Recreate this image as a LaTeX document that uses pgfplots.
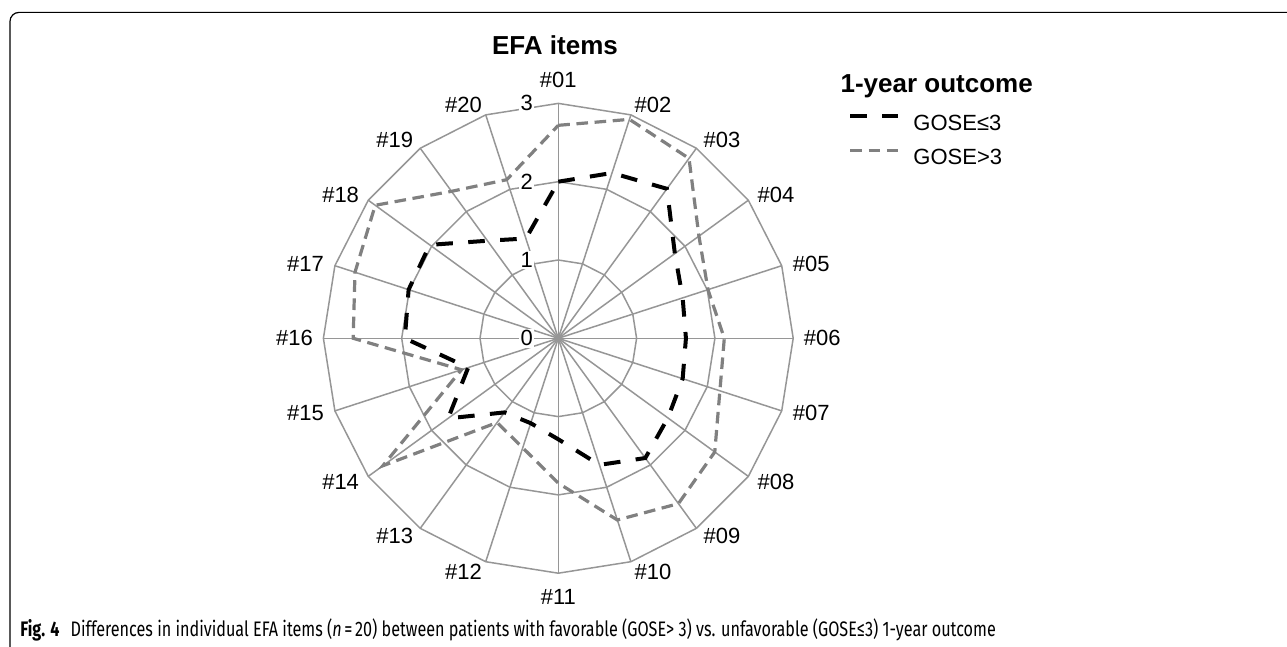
\documentclass[border=0pt]{standalone}
\usepackage{fontspec}
\setmainfont{Liberation Sans}
\newfontfamily\captionfont{Fira Sans}
\usepackage{graphicx}
\usepackage{pgfplots}
\pgfplotsset{compat=1.18}
\definecolor{gridc}{RGB}{150,150,150}
\definecolor{sergray}{RGB}{128,128,128}
\newcommand{\lblfont}{\fontsize{11bp}{13bp}\selectfont}
\begin{document}
\begin{tikzpicture}
\path[use as bounding box] (0,0) rectangle (643.5bp,323.5bp);
\draw[line width=0.6bp, rounded corners=4.5bp] (5bp,-1bp) -- (5bp,317.3bp) -- (645bp,317.3bp);
\begin{axis}[
  x=39.15bp, y=39.15bp,
  xmin=-3.5, xmax=3.5, ymin=-3.5, ymax=3.5,
  hide axis, clip=false,
  anchor=center, at={(279.15bp,154.35bp)},
  legend style={at={(axis cs:3.70,2.865)}, anchor=north west, draw=none, fill=none,
    font=\lblfont, inner sep=0pt, row sep=7bp, column sep=6.5bp,
    nodes={inner sep=0pt, text height=8bp, text depth=2bp}},
  legend cell align=left,
  legend image code/.code={\draw[#1] (0bp,4bp) -- (24bp,4bp);},
]
% grid polygons
\pgfplotsinvokeforeach{1,2,3}{
\addplot[gridc, line width=0.75bp, data cs=polar, forget plot] coordinates {(90,#1)(72,#1)(54,#1)(36,#1)(18,#1)(0,#1)(-18,#1)(-36,#1)(-54,#1)(-72,#1)(-90,#1)(-108,#1)(-126,#1)(-144,#1)(-162,#1)(-180,#1)(-198,#1)(-216,#1)(-234,#1)(-252,#1)(-270,#1)};
}
% spokes
\pgfplotsinvokeforeach{90,72,54,36,18,0,-18,-36,-54,-72,-90,-108,-126,-144,-162,-180,-198,-216,-234,-252}{
\addplot[gridc, line width=0.75bp, data cs=polar, forget plot] coordinates {(0,0)(#1,3)};
}
% value labels
\node[anchor=east, fill=white, inner sep=0.8bp, font=\lblfont] at (axis cs:-0.30,0) {0};
\node[anchor=east, fill=white, inner sep=0.8bp, font=\lblfont] at (axis cs:-0.30,1) {1};
\node[anchor=east, fill=white, inner sep=0.8bp, font=\lblfont] at (axis cs:-0.30,2) {2};
\node[anchor=east, fill=white, inner sep=0.8bp, font=\lblfont] at (axis cs:-0.30,3) {3};
% category labels
\node[font=\lblfont] at (axis cs:0,3.30) {\#01};
\node[font=\lblfont] at (axis cs:1.21,2.98) {\#02};
\node[font=\lblfont] at (axis cs:2.09,2.53) {\#03};
\node[font=\lblfont] at (axis cs:2.78,1.83) {\#04};
\node[font=\lblfont] at (axis cs:3.23,0.95) {\#05};
\node[font=\lblfont] at (axis cs:3.37,0) {\#06};
\node[font=\lblfont] at (axis cs:3.23,-0.95) {\#07};
\node[font=\lblfont] at (axis cs:2.78,-1.83) {\#08};
\node[font=\lblfont] at (axis cs:2.09,-2.53) {\#09};
\node[font=\lblfont] at (axis cs:1.21,-2.98) {\#10};
\node[font=\lblfont] at (axis cs:0,-3.30) {\#11};
\node[font=\lblfont] at (axis cs:-1.21,-2.98) {\#12};
\node[font=\lblfont] at (axis cs:-2.09,-2.53) {\#13};
\node[font=\lblfont] at (axis cs:-2.78,-1.83) {\#14};
\node[font=\lblfont] at (axis cs:-3.23,-0.95) {\#15};
\node[font=\lblfont] at (axis cs:-3.37,0) {\#16};
\node[font=\lblfont] at (axis cs:-3.23,0.95) {\#17};
\node[font=\lblfont] at (axis cs:-2.78,1.83) {\#18};
\node[font=\lblfont] at (axis cs:-2.09,2.53) {\#19};
\node[font=\lblfont] at (axis cs:-1.21,2.98) {\#20};
% series
\addplot[black, line width=2bp, dash pattern=on 8.3bp off 7.7bp, data cs=polar] coordinates {
(90,2.00) (72,2.22) (54,2.36) (36,1.84) (18,1.67) (0,1.63) (-18,1.67) (-36,1.73) (-54,1.89) (-72,1.70)
(-90,1.29) (-108,1.14) (-126,1.17) (-144,1.74) (-162,1.21) (-180,1.96) (-198,2.01) (-216,2.03) (-234,1.54) (-252,1.34) (-270,2.00)};
\addlegendentry{GOSE≤3}
\addplot[sergray, line width=1.6bp, dash pattern=on 5.8bp off 3.3bp, data cs=polar] coordinates {
(90,2.72) (72,2.94) (54,2.84) (36,2.22) (18,2.01) (0,2.12) (-18,2.17) (-36,2.47) (-54,2.61) (-72,2.44)
(-90,1.85) (-108,1.47) (-126,1.33) (-144,2.77) (-162,1.30) (-180,2.62) (-198,2.73) (-216,2.89) (-234,2.32) (-252,2.13) (-270,2.72)};
\addlegendentry{GOSE>3}
\node[anchor=base west, inner sep=0pt, font=\fontsize{13bp}{15bp}\selectfont\bfseries] at (axis cs:3.60,3.137) {1-year outcome};
\end{axis}
\node[anchor=base, inner sep=0pt, font=\fontsize{13bp}{15bp}\selectfont\bfseries] at (277.5bp,296.3bp) {EFA items};
\node[anchor=base west, inner sep=0pt] at (10bp,5.5bp) {\captionfont\fontsize{10.5bp}{12bp}\selectfont\scalebox{0.77}[1]{\textbf{Fig. 4}\hspace{0.7em}Differences in individual EFA items (\textit{n}\,=\,20) between patients with favorable (GOSE> 3) vs. unfavorable (GOSE≤3) 1-year outcome}};
\end{tikzpicture}
\end{document}
